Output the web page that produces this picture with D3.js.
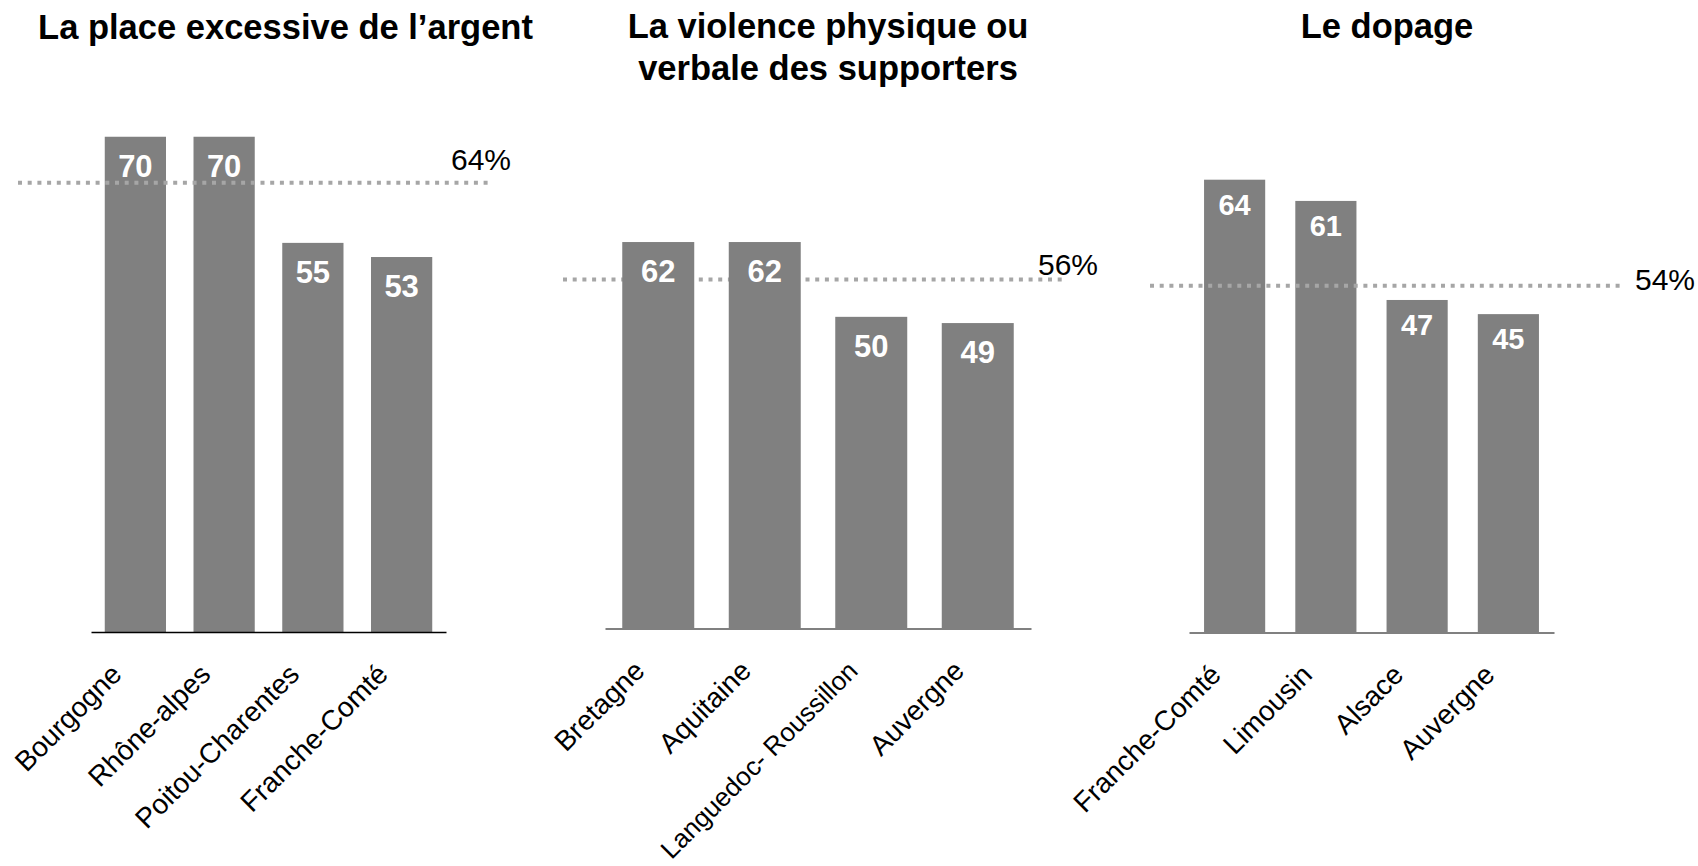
<!DOCTYPE html>
<html>
<head>
<meta charset="utf-8">
<script src="https://cdn.jsdelivr.net/npm/d3@7"></script>
<style>
  html, body { margin: 0; padding: 0; background: #fff; }
  svg { display: block; font-family: "Liberation Sans", Arial, sans-serif; }
</style>
</head>
<body>
<svg id="chart" width="1698" height="866"></svg>
<script>
// ---------- data ----------
const titleArgent = ["La place excessive de l’argent"];
const categoriesArgent = ["Bourgogne", "Rhône-alpes", "Poitou-Charentes", "Franche-Comté"];
const valuesArgent = [70, 70, 55, 53];

const titleViolence = ["La violence physique ou", "verbale des supporters"];
const categoriesViolence = ["Bretagne", "Aquitaine", "Languedoc- Roussillon", "Auvergne"];
const valuesViolence = [62, 62, 50, 49];

const titleDopage = ["Le dopage"];
const categoriesDopage = ["Franche-Comté", "Limousin", "Alsace", "Auvergne"];
const valuesDopage = [64, 61, 47, 45];

// average labels and the level at which each dotted line is drawn
const averageLabels = ["64%", "56%", "54%"];
const averageLineLevels = [63.5, 56, 49];

// ---------- layout ----------
const H = 866;
const layout = [
  { xr: [91, 446], pin: 0.31, yDomain: [0, 80], yRange: [632, 66], titleX: 285.5, titleY: 38.5,
    lineX: [18, 491], lineBehind: false, labelX: 451, labelY: 170, valFont: 31, valOff: 40, axisColor: "#000", axisW: 1.5 },
  { xr: [605, 1031], pin: 0.324, yDomain: [0, 90], yRange: [628.5, 67.5], titleX: 828, titleY: 37.5,
    lineX: [563, 1063], lineBehind: true, labelX: 1038, labelY: 275, valFont: 31, valOff: 40, axisColor: "#808080", axisW: 2 },
  { xr: [1189, 1554], pin: 0.33, yDomain: [0, 80], yRange: [632.5, 66.5], titleX: 1387, titleY: 37.5,
    lineX: [1150, 1623], lineBehind: false, labelX: 1635, labelY: 290, valFont: 29, valOff: 35, axisColor: "#808080", axisW: 2 }
];

const panels = [
  { title: titleArgent, cats: categoriesArgent, vals: valuesArgent },
  { title: titleViolence, cats: categoriesViolence, vals: valuesViolence },
  { title: titleDopage, cats: categoriesDopage, vals: valuesDopage }
];

const svg = d3.select("#chart");
const labDX = -12, labDY = 44, labFont = 28;

panels.forEach((p, i) => {
  const L = layout[i];
  const g = svg.append("g");

  const x = d3.scaleBand().domain(p.cats).range(L.xr)
    .paddingInner(L.pin).paddingOuter(L.pin / 2);
  const y = d3.scaleLinear().domain(L.yDomain).range(L.yRange);

  // title
  const t = g.append("text")
    .attr("x", L.titleX).attr("y", L.titleY)
    .attr("text-anchor", "middle")
    .attr("font-size", 34.5).attr("font-weight", "bold").attr("fill", "#000");
  p.title.forEach((line, k) => {
    t.append("tspan").attr("x", L.titleX).attr("dy", k === 0 ? 0 : 42).text(line);
  });

  const behind = g.append("g");
  const barsG = g.append("g");
  const front = g.append("g");
  const lineG = L.lineBehind ? behind : front;

  // bars
  barsG.selectAll("rect.bar").data(p.vals).enter().append("rect")
    .attr("class", "bar")
    .attr("x", (d, j) => x(p.cats[j]))
    .attr("width", x.bandwidth())
    .attr("y", d => y(d))
    .attr("height", d => y(0) - y(d))
    .attr("fill", "#808080");

  // axis
  const ax = front.append("g")
    .attr("transform", `translate(0,${y(0)})`)
    .call(d3.axisBottom(x).tickSize(0).tickSizeOuter(0));
  ax.select(".domain").attr("stroke", L.axisColor).attr("stroke-width", L.axisW);
  ax.selectAll(".tick text")
    .attr("x", null).attr("y", null).attr("dy", null)
    .attr("text-anchor", "end")
    .attr("transform", `translate(${labDX},${labDY}) rotate(-45)`)
    .attr("font-size", labFont)
    .attr("font-family", "'Liberation Sans', Arial, sans-serif")
    .attr("fill", "#000")
    .each(function () {
      // shrink a label only if it would run past the bottom edge
      const len = this.getComputedTextLength();
      const bottom = y(0) + labDY + len * Math.SQRT1_2;
      const limit = H - 6;
      if (bottom > limit) {
        const fs = labFont * (limit - y(0) - labDY) / (len * Math.SQRT1_2);
        d3.select(this).attr("font-size", fs.toFixed(1));
      }
    });

  // dotted average line
  lineG.append("line")
    .attr("x1", L.lineX[0]).attr("x2", L.lineX[1])
    .attr("y1", y(averageLineLevels[i])).attr("y2", y(averageLineLevels[i]))
    .attr("stroke", "#a6a6a6").attr("stroke-width", 4)
    .attr("stroke-dasharray", "4,5.7");

  front.append("text")
    .attr("x", L.labelX).attr("y", L.labelY)
    .attr("font-size", 30).attr("fill", "#000")
    .text(averageLabels[i]);

  // value labels
  front.selectAll("text.val").data(p.vals).enter().append("text")
    .attr("class", "val")
    .attr("x", (d, j) => x(p.cats[j]) + x.bandwidth() / 2)
    .attr("y", d => y(d) + L.valOff)
    .attr("text-anchor", "middle")
    .attr("font-size", L.valFont).attr("font-weight", "bold")
    .attr("fill", "#fff")
    .text(d => d);
});
</script>
</body>
</html>
